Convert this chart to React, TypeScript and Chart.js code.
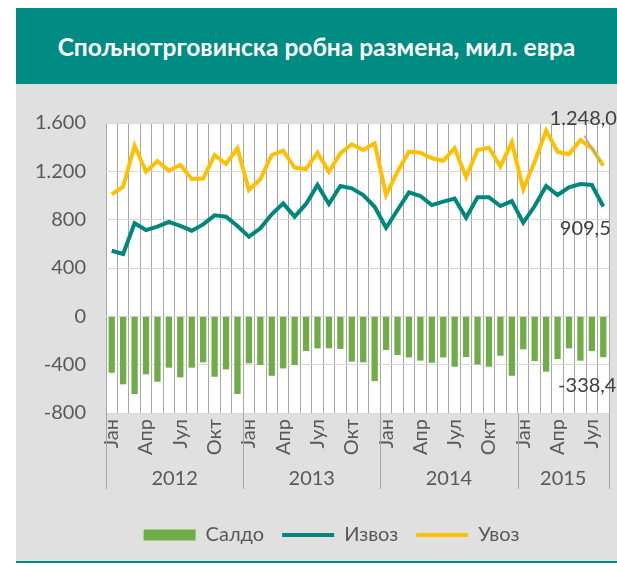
import React, { useEffect, useRef } from 'react';
import { Chart, registerables } from 'chart.js';

Chart.register(...registerables);

const FONT = "Lato, 'Noto Sans', sans-serif";

const years = ['2012', '2013', '2014', '2015'];
const monthNames = ['Јан', 'Феб', 'Мар', 'Апр', 'Мај', 'Јун', 'Јул', 'Авг', 'Сеп', 'Окт', 'Нов', 'Дец'];
const monthsInYear = [12, 12, 12, 8];
const shownMonths = ['Јан', 'Апр', 'Јул', 'Окт'];

const categories: string[] = [];
years.forEach((y, yi) => {
  for (let m = 0; m < monthsInYear[yi]; m++) categories.push(monthNames[m] + ' ' + y);
});

const saldo = [
  -467, -563, -643, -480, -541, -425, -505, -425, -381, -500, -439, -643,
  -389, -403, -492, -431, -403, -287, -265, -265, -270, -375, -381, -536,
  -279, -320, -340, -367, -384, -340, -417, -337, -398, -417, -326, -492,
  -273, -370, -458, -353, -265, -367, -287, -338.4,
];
const izvoz = [
  543, 516, 770, 714, 742, 781, 748, 709, 761, 836, 825, 748,
  659, 728, 844, 935, 825, 930, 1087, 930, 1079, 1059, 1004, 907,
  733, 880, 1026, 996, 921, 949, 974, 816, 985, 985, 913, 954,
  775, 913, 1079, 1004, 1068, 1095, 1087, 909.5,
];
const uvoz = [
  1010, 1073, 1412, 1197, 1285, 1205, 1252, 1136, 1140, 1335, 1261, 1391,
  1046, 1134, 1335, 1371, 1231, 1219, 1355, 1197, 1349, 1424, 1377, 1432,
  1004, 1197, 1363, 1355, 1308, 1288, 1391, 1151, 1377, 1396, 1239, 1440,
  1051, 1280, 1537, 1363, 1341, 1459, 1391, 1248.0,
];

const yMin = -800;
const yMax = 1600;
const yStep = 400;

const GREEN = '#70AD47';
const TEAL = '#00877D';
const YELLOW = '#FFC000';
const TEXT = '#595959';
const LABEL = '#404040';

function groupThousands(s: string): string {
  return s.replace(/\B(?=(\d{3})+(?!\d))/g, '.');
}
function fmtInt(v: number): string {
  const neg = v < 0;
  const s = groupThousands(String(Math.abs(Math.round(v))));
  return (neg ? '-' : '') + s;
}
function fmtDec(v: number): string {
  const neg = v < 0;
  const [i, d] = Math.abs(v).toFixed(1).split('.');
  return (neg ? '-' : '') + groupThousands(i) + ',' + d;
}

const framePlugin = {
  id: 'frame',
  afterLayout(chart: any) {
    if (chart.legend) chart.legend.left += 38;
  },
  beforeDraw(chart: any) {
    const { ctx, chartArea: a } = chart;
    ctx.save();
    ctx.fillStyle = '#ffffff';
    ctx.fillRect(a.left, a.top, a.right - a.left, a.bottom - a.top);
    ctx.restore();
  },
  afterDraw(chart: any) {
    const { ctx, chartArea: a } = chart;
    const x = chart.scales.x;
    const half = (x.getPixelForValue(1) - x.getPixelForValue(0)) / 2;
    const n = categories.length;
    const bounds: number[] = [0];
    let acc = 0;
    monthsInYear.forEach((c) => {
      acc += c;
      bounds.push(acc);
    });
    const px = (b: number) => (b < n ? x.getPixelForValue(b) - half : x.getPixelForValue(n - 1) + half);
    ctx.save();
    ctx.strokeStyle = '#a6a6a6';
    ctx.lineWidth = 1;
    bounds.forEach((b) => {
      const xx = Math.round(px(b)) + 0.5;
      ctx.beginPath();
      ctx.moveTo(xx, a.bottom);
      ctx.lineTo(xx, a.bottom + 76);
      ctx.stroke();
    });
    ctx.fillStyle = TEXT;
    ctx.font = `20px ${FONT}`;
    ctx.textAlign = 'center';
    ctx.textBaseline = 'middle';
    years.forEach((y, i) => {
      const cx = (px(bounds[i]) + px(bounds[i + 1])) / 2;
      ctx.fillText(y, cx, a.bottom + 66);
    });
    ctx.restore();
  },
  afterDatasetsDraw(chart: any) {
    const { ctx } = chart;
    const last = categories.length - 1;
    const mSaldo = chart.getDatasetMeta(0).data[last];
    const mIzvoz = chart.getDatasetMeta(1).data[last];
    const mUvoz = chart.getDatasetMeta(2).data[last];
    ctx.save();
    ctx.strokeStyle = '#a6a6a6';
    ctx.lineWidth = 1.5;
    ctx.beginPath();
    ctx.moveTo(mUvoz.x - 19, mUvoz.y - 30);
    ctx.lineTo(mUvoz.x - 3, mUvoz.y - 4);
    ctx.stroke();
    ctx.fillStyle = LABEL;
    ctx.font = `20px ${FONT}`;
    ctx.textAlign = 'center';
    ctx.textBaseline = 'middle';
    ctx.fillText(fmtDec(uvoz[last]), mUvoz.x - 20, mUvoz.y - 47);
    ctx.fillText(fmtDec(izvoz[last]), mIzvoz.x - 18, mIzvoz.y + 22);
    ctx.fillText(fmtDec(saldo[last]), mSaldo.x - 16, mSaldo.y + 28);
    ctx.restore();
  },
};

export default function App() {
  const ref = useRef<HTMLCanvasElement | null>(null);

  useEffect(() => {
    if (!ref.current) return;
    Chart.defaults.font.family = FONT;
    const chart = new Chart(ref.current, {
      type: 'bar',
      data: {
        labels: categories,
        datasets: [
          {
            type: 'bar',
            label: 'Салдо',
            data: saldo,
            backgroundColor: GREEN,
            borderWidth: 0,
            barPercentage: 0.55,
            categoryPercentage: 1,
          },
          {
            type: 'line',
            label: 'Извоз',
            data: izvoz,
            borderColor: TEAL,
            backgroundColor: TEAL,
            borderWidth: 4,
            pointRadius: 0,
            tension: 0,
          },
          {
            type: 'line',
            label: 'Увоз',
            data: uvoz,
            borderColor: YELLOW,
            backgroundColor: YELLOW,
            borderWidth: 4,
            pointRadius: 0,
            tension: 0,
          },
        ] as any,
      },
      options: {
        responsive: false,
        animation: false,
        layout: { padding: { top: 39, right: 8, left: 0, bottom: 7 } },
        plugins: {
          tooltip: { enabled: false },
          legend: {
            position: 'bottom',
            labels: {
              usePointStyle: true,
              pointStyleWidth: 52,
              boxHeight: 11,
              padding: 18,
              color: TEXT,
              font: { size: 20, family: FONT },
              generateLabels: (c: any) =>
                c.data.datasets.map((ds: any, i: number) => ({
                  text: ds.label,
                  fillStyle: ds.type === 'bar' ? GREEN : ds.borderColor,
                  strokeStyle: ds.type === 'bar' ? GREEN : ds.borderColor,
                  lineWidth: ds.type === 'bar' ? 0 : 4,
                  pointStyle: ds.type === 'bar' ? 'rect' : 'line',
                  hidden: false,
                  datasetIndex: i,
                  fontColor: TEXT,
                })),
            },
          },
        },
        scales: {
          x: {
            type: 'category',
            offset: true,
            grid: { offset: true, color: '#a6a6a6', drawTicks: false, lineWidth: 1 },
            border: { display: false },
            ticks: {
              autoSkip: false,
              maxRotation: 90,
              minRotation: 90,
              padding: 6,
              color: TEXT,
              font: { size: 20, family: FONT },
              callback: (_v: any, i: number) => {
                const name = categories[i].split(' ')[0];
                return shownMonths.includes(name) ? name : '';
              },
            },
            afterFit: (s: any) => {
              s.height = 94;
              s.paddingLeft = 0;
              s.paddingRight = 0;
            },
          },
          y: {
            min: yMin,
            max: yMax,
            grid: { color: '#d9d9d9', drawTicks: false },
            border: { display: false },
            ticks: {
              stepSize: yStep,
              padding: 20,
              color: TEXT,
              font: { size: 20, family: FONT },
              callback: (v: any) => fmtInt(Number(v)),
            },
            afterFit: (s: any) => {
              s.width = 90;
              s.paddingTop = 0;
              s.paddingBottom = 0;
            },
          },
        },
      },
      plugins: [framePlugin],
    } as any);
    return () => chart.destroy();
  }, []);

  return (
    <div style={{ position: 'absolute', left: 0, top: 0, width: 617, height: 565, overflow: 'hidden' }}>
      <div
        style={{
          position: 'absolute',
          left: 16,
          top: 8,
          width: 601,
          height: 76,
          background: '#008C82',
          color: '#ffffff',
          fontFamily: FONT,
          fontWeight: 700,
          fontSize: 24.5,
          display: 'flex',
          alignItems: 'center',
          justifyContent: 'center',
          whiteSpace: 'nowrap',
        }}
      >
        Спољнотрговинска робна размена, мил. евра
      </div>
      <div style={{ position: 'absolute', left: 16, top: 84, width: 601, height: 478, background: '#E0E0E0' }}>
        <canvas ref={ref} width={601} height={478} style={{ display: 'block' }} />
      </div>
      <div style={{ position: 'absolute', left: 16, top: 561, width: 601, height: 2, background: '#008C82' }} />
    </div>
  );
}
